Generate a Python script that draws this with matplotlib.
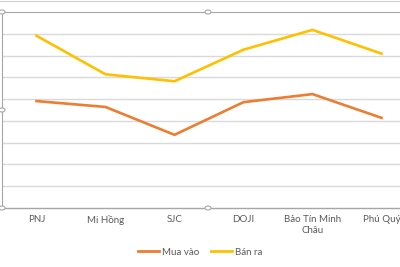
import matplotlib.pyplot as plt
from matplotlib.lines import Line2D

plt.rcParams['font.family'] = ['Lato', 'DejaVu Sans']

categories = ['PNJ', 'Mi Hồng', 'SJC', 'DOJI', 'Bảo Tín Minh\nChâu', 'Phú Quý']
mua_vao = [4.91, 4.64, 3.36, 4.86, 5.23, 4.14]
ban_ra = [7.91, 6.14, 5.82, 7.27, 8.18, 7.09]

fig = plt.figure(figsize=(4, 2.67), dpi=100)
ax = fig.add_axes([0.005, 0.221, 1.035, 0.734])

x = range(len(categories))
ax.plot(x, mua_vao, color='#ED7D31', lw=1.9, solid_joinstyle='round', zorder=3)
ax.plot(x, ban_ra, color='#FFC000', lw=1.9, solid_joinstyle='round', zorder=3)

ax.set_xlim(-0.5, 5.5)
ax.set_ylim(0, 9)
ax.set_yticks(range(1, 9))
ax.set_yticklabels([])
ax.tick_params(axis='y', length=0)
ax.grid(axis='y', color='#D9D9D9', lw=1)
ax.set_axisbelow(True)
ax.set_xticks(list(x))
ax.set_xticklabels(categories, fontsize=7, color='#595959', linespacing=1.3)
ax.tick_params(axis='x', length=0, pad=5)

for s in ['top', 'left', 'right']:
    ax.spines[s].set_color('#A6A6A6')
    ax.spines[s].set_linewidth(0.8)
ax.spines['bottom'].set_color('#A6A6A6')
ax.spines['bottom'].set_linewidth(1)

# selection handles of the plot area
for hx, hy in [(0.005, 0.955), (0.52, 0.955), (0.005, 0.588), (0.005, 0.221), (0.52, 0.221)]:
    fig.patches.append(plt.Circle((hx, hy), 0.0075, transform=fig.transFigure,
                                  facecolor='white', edgecolor='#A6A6A6', lw=0.8,
                                  zorder=5))
# outer chart frame at the top
fig.add_artist(Line2D([0, 1], [0.996, 0.996], color='#D0D0D0', lw=0.8))

handles = [Line2D([], [], color='#ED7D31', lw=2), Line2D([], [], color='#FFC000', lw=2)]
fig.legend(handles, ['Mua vào', 'Bán ra'], loc='center', bbox_to_anchor=(0.5, 0.055),
           ncol=2, frameon=False, fontsize=7, labelcolor='#595959',
           handlelength=2.2, handletextpad=0.3, columnspacing=1.2)

fig.savefig('out.png', dpi=100)
